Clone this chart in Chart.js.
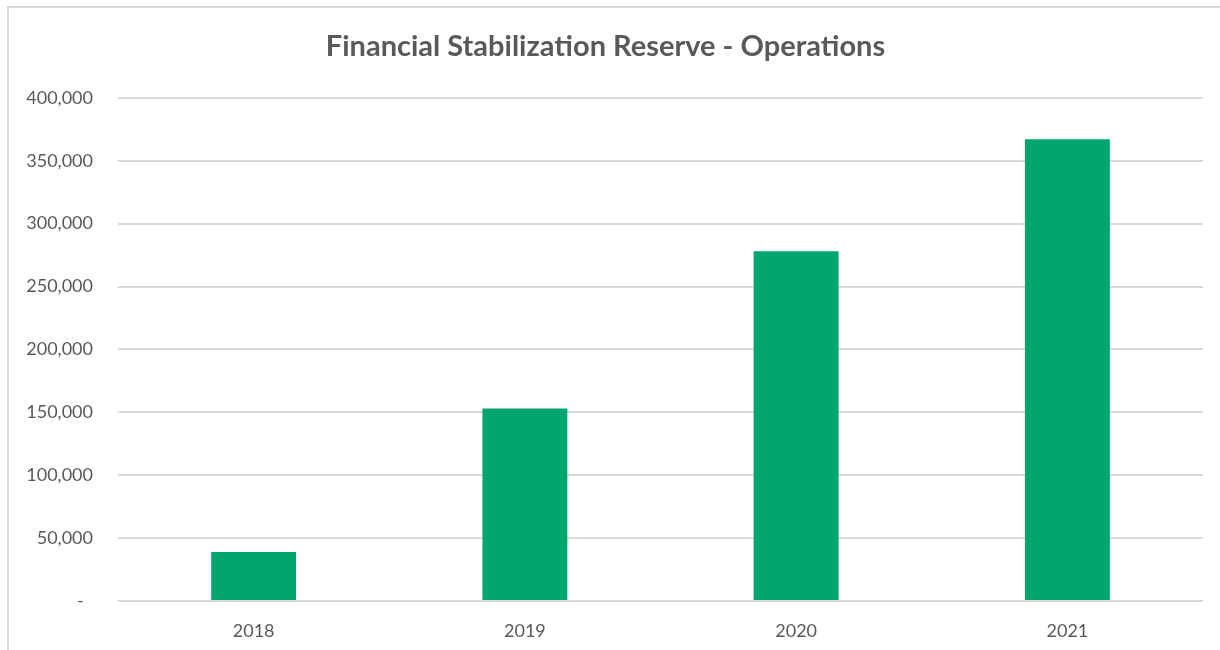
<!DOCTYPE html>
<html lang="en">

<head>
    <meta charset="utf-8">
    <title>Financial Stabilization Reserve - Operations</title>
    <style>
        html, body { margin: 0; padding: 0; background: #ffffff; overflow: hidden; }
        .frame {
            position: absolute;
            left: 7px;
            top: 6px;
            width: 1240px;
            height: 680px;
            border: 2px solid #d9d9d9;
        }
        .chart-wrap { position: absolute; left: 0; top: 0; width: 1220px; height: 650px; }
    </style>
</head>

<body>
    <div class="frame"></div>
    <div class="chart-wrap">
        <canvas id="reserveChart" width="1220" height="650"></canvas>
    </div>

    <script src="https://cdn.jsdelivr.net/npm/chart.js@4.4.1/dist/chart.umd.min.js"></script>
    <script>
        // reserve balance by fiscal year
        const years = ['2018', '2019', '2020', '2021'];
        const reserveValues = [39000, 153000, 278000, 367000];
        const yTicks = [0, 50000, 100000, 150000, 200000, 250000, 300000, 350000, 400000];

        const textGray = '#595959';
        const gridGray = '#d9d9d9';

        // accounting style: zero shows as a dash
        function fmt(v) {
            if (v === 0) return '-  ';
            return v.toLocaleString('en-US');
        }

        var ctx = document.getElementById('reserveChart').getContext('2d');
        var chart = new Chart(ctx, {
            type: 'bar',
            data: {
                labels: years,
                datasets: [{
                    label: 'Operations',
                    data: reserveValues,
                    backgroundColor: '#00a66e',
                    borderWidth: 0,
                    categoryPercentage: 1,
                    barPercentage: 0.313
                }]
            },
            options: {
                responsive: false,
                animation: false,
                layout: {
                    padding: { top: 8, right: 17, bottom: 0, left: 8 }
                },
                plugins: {
                    legend: { display: false },
                    tooltip: { enabled: false },
                    title: {
                        display: true,
                        text: 'Financial Stabilization Reserve - Operations',
                        color: textGray,
                        font: { family: 'Lato', size: 29, weight: 'bold' },
                        padding: { top: 21, bottom: 34 }
                    }
                },
                scales: {
                    x: {
                        grid: { display: false, drawTicks: false },
                        border: { display: false },
                        ticks: {
                            color: textGray,
                            font: { family: 'Lato', size: 18 },
                            padding: 19
                        },
                        afterFit: function (s) { s.height = 49; }
                    },
                    y: {
                        min: 0,
                        max: 400000,
                        afterBuildTicks: function (s) {
                            s.ticks = yTicks.map(v => ({ value: v }));
                        },
                        grid: { color: gridGray, lineWidth: 2, drawTicks: false },
                        border: { display: false },
                        ticks: {
                            color: textGray,
                            font: { family: 'Lato', size: 18 },
                            padding: 25,
                            callback: function (v) { return fmt(v); }
                        },
                        afterFit: function (s) { s.width = 110; }
                    }
                }
            }
        });
    </script>
</body>

</html>
